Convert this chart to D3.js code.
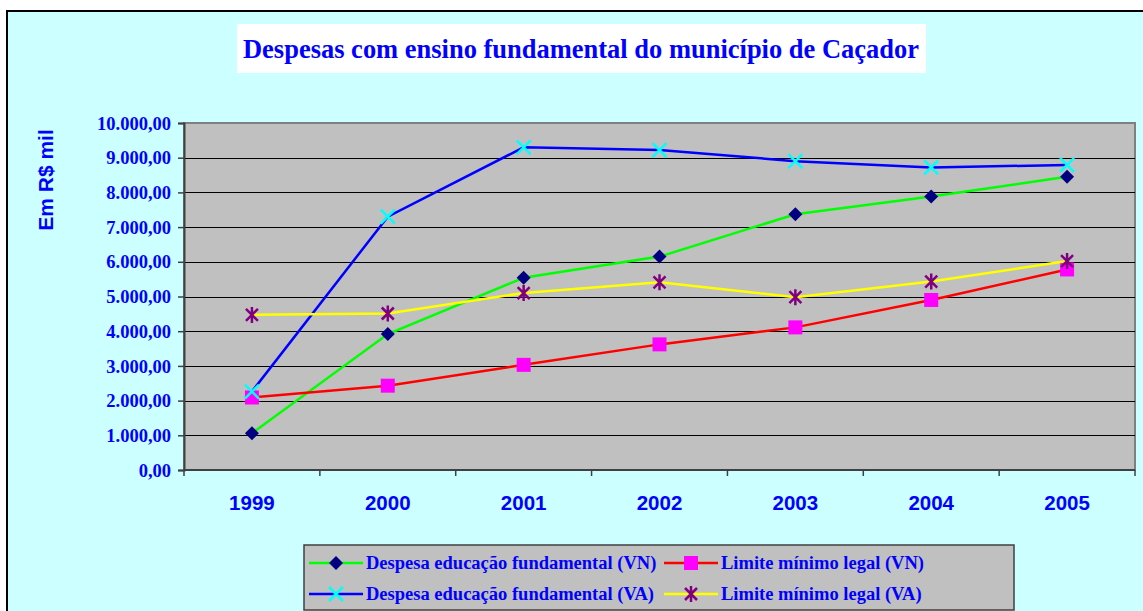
<!DOCTYPE html>
<html>
<head>
<meta charset="utf-8">
<script src="https://cdn.jsdelivr.net/npm/d3@7"></script>
<style>
  body { margin: 0; background: #ffffff; }
  svg { display: block; }
</style>
</head>
<body>
<svg id="chart" width="1143" height="611"></svg>
<script>
// *** Data ***
var years = ["1999", "2000", "2001", "2002", "2003", "2004", "2005"];
var despesaVN = [1060, 3920, 5540, 6150, 7370, 7880, 8450];
var limiteVN = [2090, 2430, 3030, 3620, 4110, 4900, 5780];
var despesaVA = [2260, 7300, 9300, 9220, 8900, 8720, 8790];
var limiteVA = [4470, 4510, 5100, 5410, 4980, 5430, 6020];
var yTicks = [0, 1000, 2000, 3000, 4000, 5000, 6000, 7000, 8000, 9000, 10000];

var series = [
  {name: "Despesa educação fundamental (VN)", values: despesaVN, line: "#00ff00", marker: "diamond", mcolor: "#000080"},
  {name: "Limite mínimo legal (VN)", values: limiteVN, line: "#ff0000", marker: "square", mcolor: "#ff00ff"},
  {name: "Despesa educação fundamental (VA)", values: despesaVA, line: "#0000ff", marker: "cross", mcolor: "#00ffff"},
  {name: "Limite mínimo legal (VA)", values: limiteVA, line: "#ffff00", marker: "star", mcolor: "#800080"}
];

var blue = "#0000ff";
var serif = "'Liberation Serif', 'Times New Roman', serif";
var sans = "'Liberation Sans', Arial, sans-serif";

var svg = d3.select("#chart");

// outer frame and background
svg.append("rect")
  .attr("x", 7).attr("y", 11)
  .attr("width", 1160).attr("height", 620)
  .attr("fill", "#ccffff")
  .attr("stroke", "#000")
  .attr("stroke-width", 2);

// title box
svg.append("rect")
  .attr("x", 237).attr("y", 24)
  .attr("width", 689).attr("height", 49)
  .attr("fill", "#ffffff");

svg.append("text")
  .attr("x", 581).attr("y", 58)
  .attr("text-anchor", "middle")
  .attr("font-family", serif)
  .attr("font-weight", "bold")
  .attr("font-size", 28)
  .attr("textLength", 676)
  .attr("lengthAdjust", "spacingAndGlyphs")
  .attr("fill", blue)
  .text("Despesas com ensino fundamental do município de Caçador");

// *** Plot area ***
var margin = {top: 123, left: 184, right: 1135, bottom: 470};

var x = d3.scaleBand().domain(years).range([margin.left, margin.right]);
var y = d3.scaleLinear().domain([0, 10000]).range([margin.bottom, margin.top]);
var cx = function (i) { return x(years[i]) + x.bandwidth() / 2; };

svg.append("rect")
  .attr("x", margin.left).attr("y", margin.top)
  .attr("width", margin.right - margin.left)
  .attr("height", margin.bottom - margin.top)
  .attr("fill", "#c0c0c0")
  .attr("stroke", "#808080")
  .attr("stroke-width", 2);

// gridlines
svg.append("g")
  .selectAll("line")
  .data(yTicks.filter(function (d) { return d > 0 && d < 10000; }))
  .join("line")
  .attr("x1", margin.left).attr("x2", margin.right)
  .attr("y1", function (d) { return Math.round(y(d)) + 0.5; })
  .attr("y2", function (d) { return Math.round(y(d)) + 0.5; })
  .attr("stroke", "#000")
  .attr("stroke-width", 1);

// y axis
var locale = d3.formatLocale({decimal: ",", thousands: ".", grouping: [3], currency: ["R$", ""]});
var fmt = locale.format(",.2f");

var yAxisG = svg.append("g")
  .attr("transform", "translate(" + margin.left + ",0)")
  .call(d3.axisLeft(y).tickValues(yTicks).tickFormat(fmt).tickSize(6).tickPadding(7));
yAxisG.select(".domain").attr("stroke", "#404040").attr("stroke-width", 2);
yAxisG.selectAll(".tick line").attr("stroke", "#404040").attr("stroke-width", 1.5);
yAxisG.selectAll(".tick text")
  .attr("font-family", serif)
  .attr("font-weight", "bold")
  .attr("font-size", 18.5)
  .attr("fill", blue)
  .attr("dy", "0.33em");

// x axis (ticks at category boundaries)
var xAxisG = svg.append("g")
  .attr("transform", "translate(0," + margin.bottom + ")");
xAxisG.append("line")
  .attr("x1", margin.left).attr("x2", margin.right)
  .attr("stroke", "#404040").attr("stroke-width", 2);
xAxisG.selectAll(".xtick")
  .data(years.concat(["end"]))
  .join("line")
  .attr("class", "xtick")
  .attr("x1", function (d, i) { return i < years.length ? x(d) : margin.right; })
  .attr("x2", function (d, i) { return i < years.length ? x(d) : margin.right; })
  .attr("y1", 0).attr("y2", 6)
  .attr("stroke", "#404040").attr("stroke-width", 1.5);
xAxisG.selectAll(".xlabel")
  .data(years)
  .join("text")
  .attr("class", "xlabel")
  .attr("x", function (d, i) { return cx(i); })
  .attr("y", 40)
  .attr("text-anchor", "middle")
  .attr("font-family", sans)
  .attr("font-weight", "bold")
  .attr("font-size", 20.5)
  .attr("fill", blue)
  .text(function (d) { return d; });

// y axis title
svg.append("text")
  .attr("transform", "translate(53,180) rotate(-90)")
  .attr("text-anchor", "middle")
  .attr("font-family", sans)
  .attr("font-weight", "bold")
  .attr("font-size", 21)
  .attr("fill", blue)
  .text("Em R$ mil");

// *** Markers ***
function drawMarker(g, type, color, px, py) {
  var r = 7;
  if (type === "diamond") {
    g.append("path")
      .attr("d", "M" + px + "," + (py - r) + "L" + (px + r) + "," + py + "L" + px + "," + (py + r) + "L" + (px - r) + "," + py + "Z")
      .attr("fill", color);
  } else if (type === "square") {
    g.append("rect")
      .attr("x", px - r).attr("y", py - r)
      .attr("width", 2 * r).attr("height", 2 * r)
      .attr("fill", color);
  } else if (type === "cross") {
    g.append("path")
      .attr("d", "M" + (px - r) + "," + (py - r) + "L" + (px + r) + "," + (py + r) + "M" + (px + r) + "," + (py - r) + "L" + (px - r) + "," + (py + r))
      .attr("stroke", color).attr("stroke-width", 2.5).attr("fill", "none");
  } else {
    g.append("path")
      .attr("d", "M" + (px - 6) + "," + (py - 6) + "L" + (px + 6) + "," + (py + 6) + "M" + (px + 6) + "," + (py - 6) + "L" + (px - 6) + "," + (py + 6) + "M" + px + "," + (py - r - 1) + "L" + px + "," + (py + r + 1))
      .attr("stroke", color).attr("stroke-width", 2.5).attr("fill", "none");
  }
}

// *** Series ***
var lineMaker = d3.line()
  .x(function (d, i) { return cx(i); })
  .y(function (d) { return y(d); });

series.forEach(function (s) {
  var g = svg.append("g");
  g.append("path")
    .attr("d", lineMaker(s.values))
    .attr("fill", "none")
    .attr("stroke", s.line)
    .attr("stroke-width", 2.5);
  s.values.forEach(function (v, i) {
    drawMarker(g, s.marker, s.mcolor, cx(i), y(v));
  });
});

// *** Legend ***
svg.append("rect")
  .attr("x", 304).attr("y", 545)
  .attr("width", 710).attr("height", 65)
  .attr("fill", "#c0c0c0")
  .attr("stroke", "#404040")
  .attr("stroke-width", 1.5);

var legendPos = [
  {x: 309, y: 563}, {x: 664, y: 563},
  {x: 309, y: 594}, {x: 664, y: 594}
];

series.forEach(function (s, i) {
  var p = legendPos[i];
  var g = svg.append("g");
  g.append("line")
    .attr("x1", p.x).attr("x2", p.x + 54)
    .attr("y1", p.y).attr("y2", p.y)
    .attr("stroke", s.line).attr("stroke-width", 2.5);
  drawMarker(g, s.marker, s.mcolor, p.x + 27, p.y);
  g.append("text")
    .attr("x", p.x + 57)
    .attr("y", p.y + 6)
    .attr("font-family", serif)
    .attr("font-weight", "bold")
    .attr("font-size", 18.5)
    .attr("fill", blue)
    .text(s.name);
});
</script>
</body>
</html>
